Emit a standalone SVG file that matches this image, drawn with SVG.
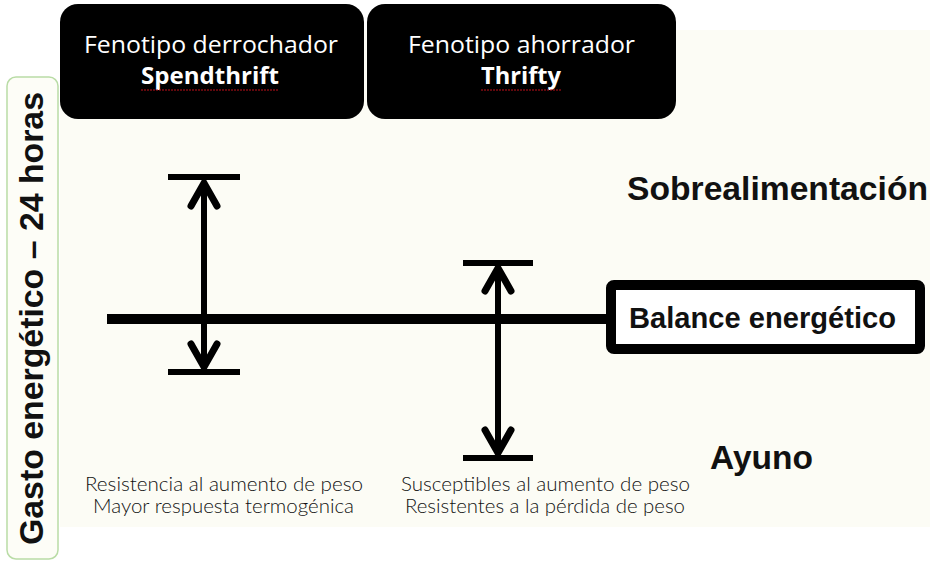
<svg xmlns="http://www.w3.org/2000/svg" width="930" height="567" viewBox="0 0 930 567">
<defs>
<style>
.hdr{fill:#000}
.ht{font-family:"Open Sans","Noto Sans",sans-serif;fill:#fff;text-anchor:middle}
.bar{stroke:#000;stroke-width:6;fill:none}
.shaft{stroke:#000;stroke-width:6;fill:none}
.head{stroke:#000;stroke-width:7;fill:none;stroke-linecap:round;stroke-linejoin:miter}
.big{font-family:"Liberation Sans",Arial,sans-serif;font-weight:bold;fill:#111}
.note{font-family:Lato,"Open Sans",sans-serif;font-weight:300;font-size:19px;fill:#111;text-anchor:middle}
.squig{stroke:#c0101a;stroke-width:1.2;fill:none;stroke-dasharray:2 1}
</style>
</defs>
<rect width="930" height="567" fill="#fff"/>
<rect x="60" y="30" width="870" height="497" fill="#fcfcf5"/>

<g id="axis-label">
<rect x="7" y="77" width="51" height="482" rx="9" fill="#fdfdf7" stroke="#b9dca6" stroke-width="1.5"/>
<text class="big" font-size="34" text-anchor="middle" textLength="453" lengthAdjust="spacingAndGlyphs" transform="translate(43,318.5) rotate(-90)">Gasto energético – 24 horas</text>
</g>

<g id="spendthrift-header">
<rect class="hdr" x="60" y="4" width="304" height="115" rx="18"/>
<text class="ht" x="211" y="53" font-size="24" textLength="254" lengthAdjust="spacingAndGlyphs">Fenotipo derrochador</text>
<text class="ht" x="210" y="84" font-size="23" font-weight="bold" textLength="138" lengthAdjust="spacingAndGlyphs">Spendthrift</text>
<path class="squig" d="M141 90 L279 90"/>
</g>

<g id="thrifty-header">
<rect class="hdr" x="367" y="4" width="309" height="115" rx="18"/>
<text class="ht" x="521.5" y="53" font-size="24" textLength="227" lengthAdjust="spacingAndGlyphs">Fenotipo ahorrador</text>
<text class="ht" x="521" y="84" font-size="23" font-weight="bold" textLength="80" lengthAdjust="spacingAndGlyphs">Thrifty</text>
<path class="squig" d="M481 90 L561 90"/>
</g>

<g id="sobrealimentacion">
<text class="big" x="627" y="200" font-size="34" textLength="301" lengthAdjust="spacingAndGlyphs">Sobrealimentación</text>
</g>

<g id="ayuno">
<text class="big" x="710" y="469" font-size="33" textLength="103" lengthAdjust="spacingAndGlyphs">Ayuno</text>
</g>

<g id="balance">
<rect x="611" y="285" width="309" height="64" rx="3" fill="#fff" stroke="#000" stroke-width="10"/>
<text class="big" x="762.5" y="328" font-size="29" text-anchor="middle" textLength="267" lengthAdjust="spacingAndGlyphs">Balance energético</text>
</g>

<g id="connectors">
<line x1="107" y1="319" x2="608" y2="319" stroke="#000" stroke-width="10"/>
<line class="bar" x1="168" y1="177" x2="240" y2="177"/>
<line class="bar" x1="168" y1="372" x2="240" y2="372"/>
<line class="shaft" x1="204" y1="182" x2="204" y2="367"/>
<path class="head" d="M191 206 L204 183 L217 206"/>
<path class="head" d="M191 344 L204 367 L217 344"/>
<line class="bar" x1="463" y1="263" x2="533" y2="263"/>
<line class="bar" x1="463" y1="458" x2="533" y2="458"/>
<line class="shaft" x1="498" y1="268" x2="498" y2="453"/>
<path class="head" d="M485 291 L498 268 L511 291"/>
<path class="head" d="M485 430 L498 453 L511 430"/>
</g>

<g id="spendthrift-notes">
<text class="note" x="224" y="491" textLength="278" lengthAdjust="spacingAndGlyphs">Resistencia al aumento de peso</text>
<text class="note" x="223.5" y="513" textLength="261" lengthAdjust="spacingAndGlyphs">Mayor respuesta termogénica</text>
</g>

<g id="thrifty-notes">
<text class="note" x="545.5" y="491" textLength="289" lengthAdjust="spacingAndGlyphs">Susceptibles al aumento de peso</text>
<text class="note" x="545" y="513" textLength="280" lengthAdjust="spacingAndGlyphs">Resistentes a la pérdida de peso</text>
</g>
</svg>
